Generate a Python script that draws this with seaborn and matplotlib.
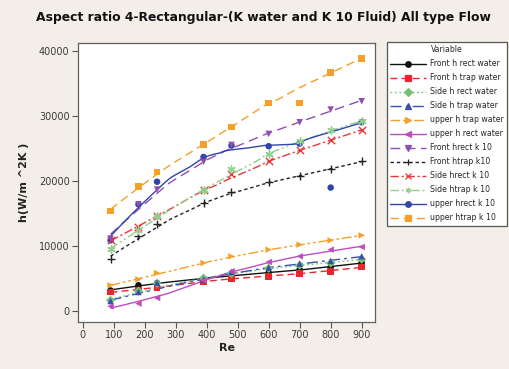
import numpy as np
import pandas as pd
import matplotlib
matplotlib.use("Agg")
import matplotlib.pyplot as plt
from matplotlib.lines import Line2D
import seaborn as sns

re_vals = [90, 180, 240, 390, 480, 600, 700, 800, 900]

series_names = [
    "Front h rect water", "Front h trap water", "Side h rect water", "Side h trap water",
    "upper h trap water", "upper h rect water", "Front hrect k 10", "Front htrap k10",
    "Side hrect k 10", "Side htrap k 10", "upper hrect k 10", "upper htrap k 10",
]

front_h_rect_water = [3200, 4000, 4350, 5000, 5550, 5880, 6400, 6710, 7480]
front_h_trap_water = [2950, 3300, 3650, 4600, 5050, 5380, 5790, 6140, 6800]
side_h_rect_water = [1700, 3100, 4300, 5100, 5800, 6600, 7070, 7420, 7990]
side_h_trap_water = [1580, 2970, 4400, 4900, 6040, 6710, 7320, 7730, 8450]
upper_h_trap_water = [4000, 4900, 5880, 7420, 8450, 9470, 10240, 10900, 11670]
upper_h_rect_water = [770, 1180, 2050, 4760, 6150, 7570, 8450, 9470, 9880]
front_hrect_k10 = [11170, 16440, 18700, 22940, 25550, 27240, 29030, 30980, 32260]
front_htrap_k10 = [8100, 11520, 13360, 16640, 18330, 19860, 20740, 21810, 23040]
side_hrect_k10 = [10900, 12950, 14590, 18590, 21040, 23040, 24730, 26370, 27800]
side_htrap_k10 = [9600, 12440, 14590, 18690, 21920, 24220, 26160, 27800, 29190]
upper_hrect_k10 = [10900, 16440, 19900, 23700, 25450, 25350, 25750, 19000, 29050]
upper_htrap_k10 = [15410, 19200, 21400, 25600, 28300, 32000, 32000, 36700, 38800]

all_values = [front_h_rect_water, front_h_trap_water, side_h_rect_water, side_h_trap_water,
              upper_h_trap_water, upper_h_rect_water, front_hrect_k10, front_htrap_k10,
              side_hrect_k10, side_htrap_k10, upper_hrect_k10, upper_htrap_k10]

colors = ["#111111", "#e8262b", "#72c472", "#3a4fb0", "#f5a02a", "#c04cc0",
          "#8e4fb0", "#222222", "#e8363b", "#8fd08f", "#3345a8", "#f5a02a"]
markers = ["o", "s", "D", "^", ">", "<", "v", "+", "x", (6, 2, 0), "o", "s"]
dashes = ["-", (0, (5, 3)), (0, (1.2, 2)), (0, (8, 3, 2, 3)), (0, (7, 2, 2, 2, 2, 2)), "-",
          (0, (7, 4)), (0, (2.5, 2)), (0, (6, 2, 1.5, 2)), (0, (6, 2, 1.5, 2, 1.5, 2)), "-", (0, (6, 3.5))]
marker_z = [3, 3, 3, 3, 3, 3, 3.5, 3, 3, 3, 2.8, 3.6]


def lowess(x, y, xs, f=0.5, steps=2):
    x = np.asarray(x, float)
    y = np.asarray(y, float)
    n = len(x)
    r = int(np.ceil(f * n))
    rw = np.ones(n)

    def fit_at(x0, rw):
        d = np.abs(x - x0)
        h = np.sort(d)[r - 1]
        w = np.clip(1 - (d / h) ** 3, 0, 1) ** 3 * rw + 1e-12
        W = w.sum()
        xm = (w * x).sum() / W
        ym = (w * y).sum() / W
        den = (w * (x - xm) ** 2).sum()
        b = (w * (x - xm) * (y - ym)).sum() / den if den > 0 else 0.0
        return ym + b * (x0 - xm)

    for i in range(steps):
        fitted = np.array([fit_at(xi, rw) for xi in x])
        res = y - fitted
        s = np.median(np.abs(res))
        if s <= 0:
            break
        rw = np.clip(1 - (res / (6 * s)) ** 2, 0, 1) ** 2
    return np.array([fit_at(x0, rw) for x0 in xs])


pts = pd.DataFrame({
    "Re": np.tile(re_vals, len(series_names)),
    "h": np.concatenate(all_values),
    "Variable": np.repeat(series_names, len(re_vals)),
})

grid = np.linspace(min(re_vals), max(re_vals), 200)
curves = pd.DataFrame({
    "Re": np.tile(grid, len(series_names)),
    "h": np.concatenate([lowess(re_vals, v, grid) for v in all_values]),
    "Variable": np.repeat(series_names, len(grid)),
})

sns.set_style("white")
plt.rcParams["font.family"] = ["DejaVu Sans"]

bg = "#f3efe8"
fig = plt.figure(figsize=(5.10, 3.69), dpi=100, facecolor=bg)
ax = fig.add_axes([78 / 510, 1 - 322 / 369, (375 - 78) / 510, (322 - 43) / 369])
ax.set_facecolor("white")

for i, name in enumerate(series_names):
    sns.lineplot(data=curves[curves["Variable"] == name], x="Re", y="h", ax=ax,
                 color=colors[i], linestyle=dashes[i], linewidth=1.0, legend=False)
for i, name in enumerate(series_names):
    m = markers[i]
    filled = m not in ("+", "x") and not isinstance(m, tuple)
    sns.scatterplot(data=pts[pts["Variable"] == name], x="Re", y="h", ax=ax,
                    color=colors[i], marker=m, s=22 if filled else 28,
                    linewidth=0 if filled else 1.0, edgecolor=colors[i] if not filled else "none",
                    legend=False, zorder=marker_z[i])

ax.set_xlim(-15, 943)
ax.set_ylim(-1640, 41200)
ax.set_xticks(range(0, 1000, 100))
ax.set_yticks(range(0, 40001, 10000))
tick_col = "#3a3a3a"
ax.tick_params(axis="both", direction="out", length=4, width=0.8, color="#555555",
               labelsize=7, labelcolor=tick_col, pad=2, bottom=True, left=True)
for sp in ax.spines.values():
    sp.set_color("#606060")
    sp.set_linewidth(0.9)
ax.set_xlabel("Re", fontsize=8, fontweight="bold", color="#222222", labelpad=2)
ax.set_ylabel("h(W/m ^2K )", fontsize=8, fontweight="bold", color="#222222", labelpad=7)

fig.text(263 / 510, 1 - 17 / 369, "Aspect ratio 4-Rectangular-(K water and K 10 Fluid) All type Flow",
         ha="center", va="center", fontsize=8.9, fontweight="bold", color="#111111")

handles = [Line2D([0], [0], color=colors[i], linestyle=dashes[i], linewidth=1.0,
                  marker=markers[i], markersize=4, markeredgewidth=0.9,
                  markerfacecolor=colors[i], markeredgecolor=colors[i])
           for i in range(len(series_names))]
leg = fig.legend(handles, series_names, title="Variable", loc="upper left",
                 bbox_to_anchor=(387 / 510, 1 - 42 / 369), fontsize=5.6, title_fontsize=5.6,
                 frameon=True, fancybox=False, framealpha=1, edgecolor="#555555",
                 handlelength=4.6, handletextpad=0.5, labelspacing=0.64, borderpad=0.45,
                 borderaxespad=0, numpoints=1)
leg.get_frame().set_linewidth(0.9)
leg.get_frame().set_facecolor("white")

fig.savefig("out.png", dpi=100, facecolor=bg)
